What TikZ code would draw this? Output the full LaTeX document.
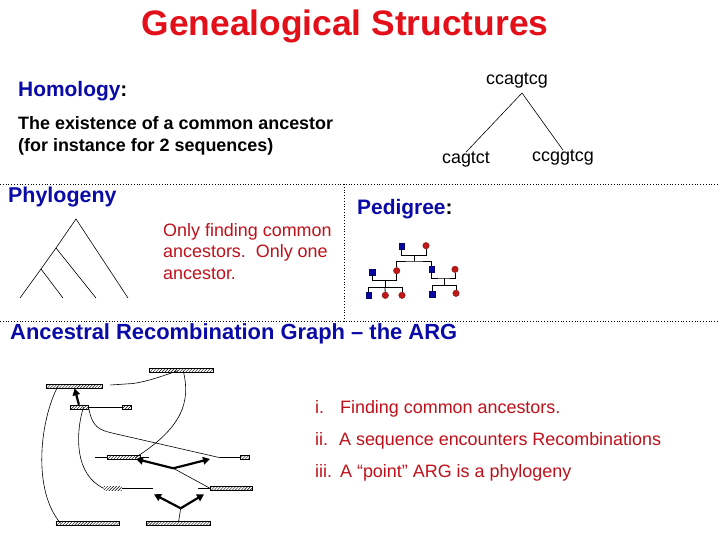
\documentclass[tikz,border=0pt]{standalone}
\usepackage{fontspec}
\setmainfont{Liberation Sans}
\usetikzlibrary{arrows.meta,positioning,calc,patterns}
\definecolor{GSTitle}{HTML}{E3101A}
\definecolor{GSBlue}{HTML}{0A0AA8}
\definecolor{GSNote}{HTML}{C0101A}
\definecolor{GSMale}{HTML}{0808A0}
\definecolor{GSFemale}{HTML}{C01818}
\tikzset{
  title/.style={text=GSTitle,font=\fontsize{35.5}{40}\selectfont\bfseries,anchor=base,inner sep=0},
  headline/.style={text=GSBlue,font=\fontsize{21}{25}\selectfont\bfseries,anchor=base west,inner sep=0},
  bodybold/.style={text=black,font=\fontsize{18}{21}\selectfont\bfseries,anchor=base west,inner sep=0},
  note/.style={text=GSNote,font=\fontsize{18}{21}\selectfont,anchor=base west,inner sep=0},
  seq/.style={text=black,font=\fontsize{18}{21}\selectfont,inner sep=0},
  branch/.style={black,line width=0.6pt},
  divider/.style={black,line width=0.8pt,dotted},
  male/.style={draw=GSMale!70!black,fill=GSMale,minimum size=6pt,inner sep=0},
  female/.style={circle,draw=GSFemale!70!black,fill=GSFemale,minimum size=6.5pt,inner sep=0},
  kin/.style={black,line width=0.8pt},
  segment/.style={draw,line width=0.6pt,pattern=north east lines,minimum height=4pt,inner sep=0},
  lineage/.style={black,line width=0.6pt},
  push/.style={black,line width=2.2pt,-{Triangle[length=7pt,width=7.5pt]}},
}

\begin{document}
\begin{tikzpicture}[x=1bp,y=-1bp]
    \useasboundingbox[fill=white] (0,0) rectangle (720,540);

    % ---------------------------------------------------------------- title
    \node[title] (title) at (345,36) {Genealogical Structures};

    % ------------------------------------------------------------- homology
    \node[headline] (homology) at (18,97) {Homology\textcolor{black}{:}};
    \node[bodybold] (homtext1) at (18,130) {The existence of a common ancestor};
    \node[bodybold] (homtext2) at (18,152) {(for instance for 2 sequences)};

    \node[seq] (anc)   at (517,81)  {ccagtcg};
    \node[seq] (desc1) at (466,160) {cagtct};
    \node[seq] (desc2) at (563,158) {ccggtcg};
    \coordinate (fork) at (522,93);
    \draw[branch] (fork) -- (desc1.north);
    \draw[branch] (fork) -- (desc2.north);

    % ------------------------------------------------------------ dividers
    \draw[divider] (0,184) -- (720,184);
    \draw[divider] (344,184) -- (344,321);
    \draw[divider] (0,321) -- (720,321);

    % ------------------------------------------------------------ phylogeny
    \node[headline,font=\fontsize{21.5}{25}\selectfont\bfseries] (phylo) at (8,203) {Phylogeny};
    \coordinate (proot) at (76,219);
    \coordinate (pin1)  at (56,248);
    \coordinate (pin2)  at (41,269);
    \coordinate (leaf1) at (20,298);
    \coordinate (leaf2) at (63,298);
    \coordinate (leaf3) at (96,298);
    \coordinate (leaf4) at (128,298);
    \draw[branch] (leaf1) -- (pin2) -- (pin1) -- (proot) -- (leaf4);
    \draw[branch] (pin2) -- (leaf2);
    \draw[branch] (pin1) -- (leaf3);
    \node[note] (phylo1) at (163,236.5) {Only finding common};
    \node[note] (phylo2) at (163,258)   {ancestors.\ \ Only one};
    \node[note] (phylo3) at (163,279.5) {ancestor.};

    % ------------------------------------------------------------- pedigree
    \node[headline] (pedigree) at (357,215) {Pedigree\textcolor{black}{:}};
    \node[male]   (p1)  at (401.7,246)   {};
    \node[female] (p2)  at (426,245.7)   {};
    \node[male]   (p3)  at (372.3,272)   {};
    \node[female] (p4)  at (396.7,270.7) {};
    \node[male]   (p5)  at (431.7,269.3) {};
    \node[female] (p6)  at (455,269.3)   {};
    \node[male]   (p7)  at (368.7,295.3) {};
    \node[female] (p8)  at (385.3,295.3) {};
    \node[female] (p9)  at (402,295.3)   {};
    \node[male]   (p10) at (432.3,294.3) {};
    \node[female] (p11) at (456,293.3)   {};
    \coordinate (u1) at (414.5,255.7);
    \coordinate (s1) at (414.5,261);
    \coordinate (u2) at (385,280.7);
    \coordinate (s2) at (385,287.3);
    \coordinate (u3) at (444.3,278);
    \coordinate (s3) at (444.3,285.3);
    \draw[kin] (p1) |- (u1) -| (p2);
    \draw[kin] (u1) -- (s1);
    \draw[kin] (p4) |- (s1) -| (p5);
    \draw[kin] (p3) |- (u2) -| (p4);
    \draw[kin] (u2) -- (s2);
    \draw[kin] (p7) |- (s2) -| (p9);
    \draw[kin] (s2) -- (p8);
    \draw[kin] (p5) |- (u3) -| (p6);
    \draw[kin] (u3) -- (s3);
    \draw[kin] (p10) |- (s3) -| (p11);

    % ------------------------------------------------------------------ ARG
    \node[headline,font=\fontsize{22}{26}\selectfont\bfseries] (arg) at (10,339)
      {Ancestral Recombination Graph -- the ARG};

    \node[segment,minimum width=64pt]   (rootseg)  at (181.3,370.7) {};
    \node[segment,minimum width=56.6pt] (leftseg)  at (74,386)      {};
    \node[segment,minimum width=17.6pt] (recseg)   at (79.5,407)    {};
    \node[segment,minimum width=8.6pt]  (recbit)   at (127,407)     {};
    \node[segment,minimum width=32.6pt] (midseg)   at (124,457.7)   {};
    \node[segment,minimum width=8.6pt]  (midbit)   at (245,457.7)   {};
    \node[segment,draw=none,minimum width=17.7pt] (stubseg) at (112.8,488.3) {};
    \node[segment,minimum width=42.4pt] (rightseg) at (231.5,488.3) {};
    \node[segment,minimum width=63.6pt] (botleft)  at (87.5,523.3)  {};
    \node[segment,minimum width=64pt]   (botright) at (178.3,523.3) {};

    \coordinate (midl)   at (95.3,457.7);
    \coordinate (midr)   at (149.3,457.7);
    \coordinate (bitl)   at (220,457.7);
    \coordinate (stubr)  at (152.7,488.3);
    \coordinate (rightl) at (198.3,488.3);
    \coordinate (leftr)  at (110.3,385);
    \coordinate (split1) at (173.3,468.3);
    \coordinate (split2) at (180.7,508.3);
    \coordinate (up1l)   at (136,459);
    \coordinate (up1r)   at (210,459);
    \coordinate (up2l)   at (154,494.3);
    \coordinate (up2r)   at (204,494.3);

    \draw[lineage] (recseg) -- (recbit);
    \draw[lineage] (midl) -- (midseg) -- (midr);
    \draw[lineage] (bitl) -- (midbit);
    \draw[lineage] (stubseg) -- (stubr);
    \draw[lineage] (rightl) -- (rightseg);

    \draw[lineage] (leftr) -- (133,383.5)
      .. controls (150,381) and (165,375) .. ($(rootseg.west)!0.45!(rootseg.east)$);
    \draw[lineage] ($(rootseg.west)!0.53!(rootseg.east)$)
      .. controls (191,402) and (182,428) .. ($(midseg.west)!0.84!(midseg.east)$);
    \draw[lineage] ($(leftseg.west)!0.22!(leftseg.east)$)
      .. controls (40,420) and (32,490) .. ($(botleft.west)!0.08!(botleft.east)$);
    \draw[lineage] ($(recseg.west)!0.72!(recseg.east)$)
      .. controls (75,435) and (75,475) .. (stubseg.west);
    \draw[lineage] (recseg.east)
      .. controls (92,428) and (100,430) .. (112,433) -- (bitl);
    \draw[lineage] (split1) -- (rightseg.west);
    \draw[lineage] (split2) -- (botright);

    \draw[push] (recseg) -- (leftseg);
    \draw[push] (split1) -- (up1l);
    \draw[push] (split1) -- (up1r);
    \draw[push] (split2) -- (up2l);
    \draw[push] (split2) -- (up2r);

    % -------------------------------------------------------------- remarks
    \node[note] (rem1) at (315,413) {\makebox[25pt][l]{i.}Finding common ancestors.};
    \node[note] (rem2) at (315,445) {\makebox[24pt][l]{ii.}A sequence encounters Recombinations};
    \node[note] (rem3) at (315,477) {\makebox[25pt][l]{iii.}A “point” ARG is a phylogeny};
  \end{tikzpicture}
\end{document}
